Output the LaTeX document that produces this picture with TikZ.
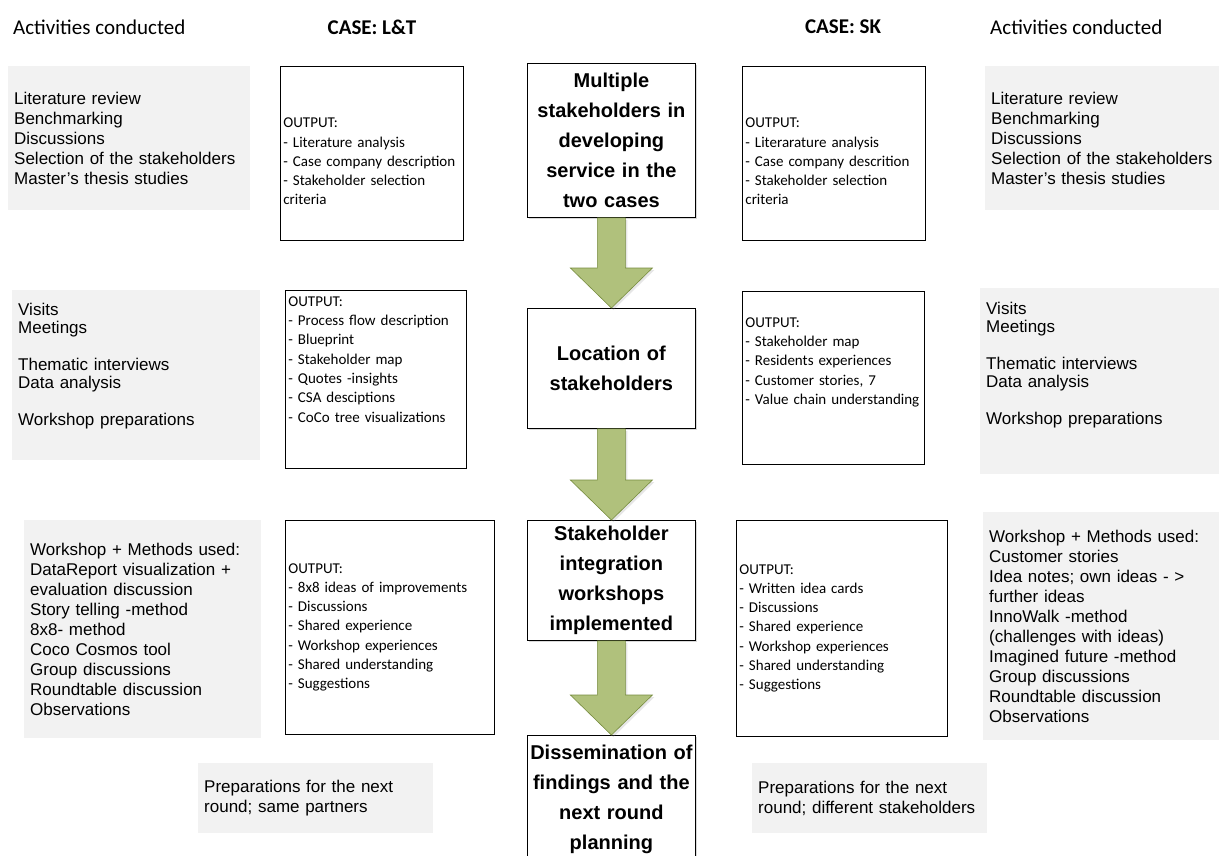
\documentclass[tikz,border=0pt]{standalone}
\usepackage{fontspec}
\setmainfont{Carlito}
\newfontfamily\arialfont{Liberation Sans}
\usetikzlibrary{calc,shadows}
\definecolor{actgrey}{RGB}{242,242,242}
\definecolor{arrowfill}{RGB}{176,193,124}
\definecolor{arrowedge}{RGB}{118,140,62}
\newcommand{\lift}[1]{\rule[-#1]{0pt}{0pt}}
\tikzset{actbox/.style={fill=actgrey,anchor=north west,align=left,inner xsep=6pt,inner ysep=0pt,font=\arialfont\fontsize{17}{20}\selectfont},
         outbox/.style={draw,line width=0.8pt,anchor=north west,align=left,inner xsep=3pt,inner ysep=0pt,font=\fontsize{15}{19.3}\selectfont,execute at begin node={\hyphenpenalty=10000}},
         stepbox/.style={draw,line width=0.8pt,fill=white,anchor=north west,align=center,inner xsep=2pt,inner ysep=1pt,text width=164pt,font=\arialfont\bfseries\fontsize{20}{30}\selectfont,drop shadow={shadow xshift=2pt,shadow yshift=-2pt,opacity=0.3}},
         bigarrow/.style={fill=arrowfill,draw=arrowedge,line width=0.6pt,drop shadow={shadow xshift=2pt,shadow yshift=-2pt,opacity=0.2}},
         header/.style={inner sep=0pt,font=\fontsize{21}{25}\selectfont}
}

\begin{document}
\begin{tikzpicture}[x=1pt,y=-1pt]
\useasboundingbox (0,0) rectangle (1219,856);
\clip (0,0) rectangle (1219,856);

% headers
\node[header,anchor=west] (hdrleft) at (13,27) {Activities conducted};
\node[header,font=\fontsize{21}{25}\selectfont\bfseries] (hdrlt) at (372,27) {CASE: L\&T};
\node[header,font=\fontsize{21}{25}\selectfont\bfseries] (hdrsk) at (843,27) {CASE: SK};
\node[header,anchor=west] (hdrright) at (990,27) {Activities conducted};

% activities, left
\node[actbox,text width=230pt,minimum height=144pt] (actl1) at (8,66) {Literature review\\Benchmarking\\Discussions\\Selection of the stakeholders\\Master’s thesis studies};
\node[actbox,text width=236pt,minimum height=170pt,font=\arialfont\fontsize{17}{18.3}\selectfont] (actl2) at (12,290) {Visits\\Meetings\\[18.3pt]Thematic interviews\\Data analysis\\[18.3pt]Workshop preparations\lift{22pt}};
\node[actbox,text width=225pt,minimum height=218pt] (actl3) at (24,520) {Workshop + Methods used:\\DataReport visualization +\\evaluation discussion\\Story telling -method\\8x8- method\\Coco Cosmos tool\\Group discussions\\Roundtable discussion\\Observations};
\node[actbox,text width=223pt,minimum height=70pt] (actl4) at (198,763) {Preparations for the next\\round; same partners};

% outputs, L&T
\node[outbox,text width=177pt,minimum height=174pt] (outlt1) at (280,66) {\rule{0pt}{26pt}OUTPUT:\\- Literature analysis\\- Case company description\\- Stakeholder selection\\criteria};
\node[outbox,text width=175pt,minimum height=178pt] (outlt2) at (285,290) {OUTPUT:\\- Process flow description\\- Blueprint\\- Stakeholder map\\- Quotes -insights\\- CSA desciptions\\- CoCo tree visualizations\lift{40pt}};
\node[outbox,text width=203pt,minimum height=214pt] (outlt3) at (285,520) {OUTPUT:\\- 8x8 ideas of improvements\\- Discussions\\- Shared experience\\- Workshop experiences\\- Shared understanding\\- Suggestions};

% main steps
\node[stepbox,minimum height=154pt] (c1) at (527,63) {Multiple\\stakeholders in\\developing\\service in the\\two cases};
\node[stepbox,minimum height=120pt] (c2) at (527,308) {Location of\\stakeholders};
\node[stepbox,minimum height=120pt] (c3) at (527,520) {Stakeholder\\integration\\workshops\\implemented};
\node[stepbox,minimum height=136pt] (c4) at (527,735) {Dissemination of\\findings and the\\next round\\planning\lift{12pt}};

% outputs, SK
\node[outbox,text width=177pt,minimum height=174pt] (outsk1) at (742,66) {\rule{0pt}{26pt}OUTPUT:\\- Literarature analysis\\- Case company descrition\\- Stakeholder selection\\criteria};
\node[outbox,text width=176pt,minimum height=173pt] (outsk2) at (742,291) {OUTPUT:\\- Stakeholder map\\- Residents experiences\\- Customer stories, 7\\- Value chain understanding\lift{34pt}};
\node[outbox,text width=205pt,minimum height=216pt] (outsk3) at (736,520) {OUTPUT:\\- Written idea cards\\- Discussions\\- Shared experience\\- Workshop experiences\\- Shared understanding\\- Suggestions};

% activities, right
\node[actbox,text width=228pt,minimum height=144pt] (actr1) at (985,66) {Literature review\\Benchmarking\\Discussions\\Selection of the stakeholders\\Master’s thesis studies};
\node[actbox,text width=233pt,minimum height=186pt,font=\arialfont\fontsize{17}{18.3}\selectfont] (actr2) at (980,288) {Visits\\Meetings\\[18.3pt]Thematic interviews\\Data analysis\\[18.3pt]Workshop preparations\lift{36pt}};
\node[actbox,text width=228pt,minimum height=228pt] (actr3) at (983,512) {Workshop + Methods used:\\Customer stories\\Idea notes; own ideas - >\\further ideas\\InnoWalk -method\\(challenges with ideas)\\Imagined future -method\\Group discussions\\Roundtable discussion\\Observations};
\node[actbox,text width=223pt,minimum height=70pt] (actr4) at (752,763) {Preparations for the next\\round; different stakeholders};

% block arrows
\draw[bigarrow] ($(c1.south)+(-14,0)$) -- ($(c1.south)+(14,0)$) -- ($(c2.north)+(14,-40)$) -- ($(c2.north)+(41,-40)$) -- (c2.north) -- ($(c2.north)+(-41,-40)$) -- ($(c2.north)+(-14,-40)$) -- cycle;
\draw[bigarrow] ($(c2.south)+(-14,0)$) -- ($(c2.south)+(14,0)$) -- ($(c3.north)+(14,-40)$) -- ($(c3.north)+(41,-40)$) -- (c3.north) -- ($(c3.north)+(-41,-40)$) -- ($(c3.north)+(-14,-40)$) -- cycle;
\draw[bigarrow] ($(c3.south)+(-14,0)$) -- ($(c3.south)+(14,0)$) -- ($(c4.north)+(14,-40)$) -- ($(c4.north)+(41,-40)$) -- (c4.north) -- ($(c4.north)+(-41,-40)$) -- ($(c4.north)+(-14,-40)$) -- cycle;

\end{tikzpicture}
\end{document}
